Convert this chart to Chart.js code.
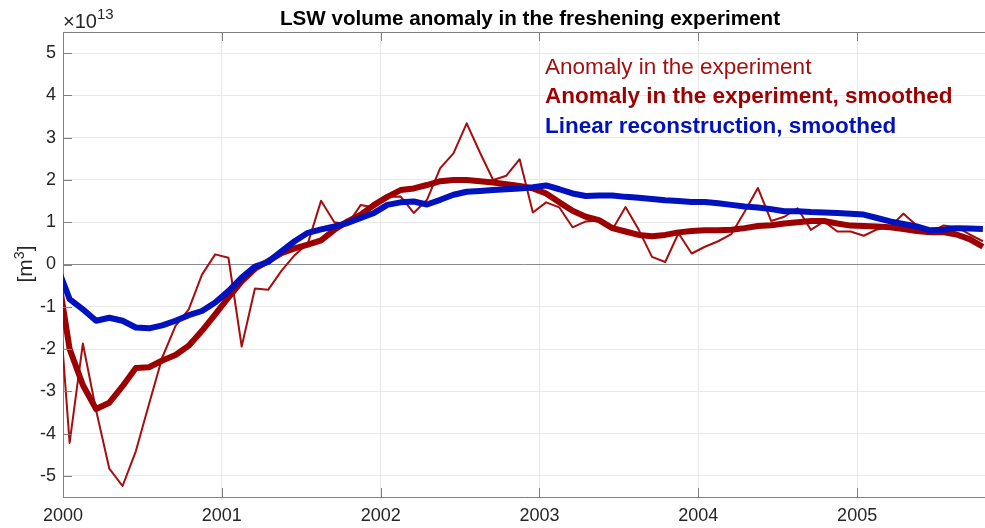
<!DOCTYPE html>
<html>
<head>
<meta charset="utf-8">
<script src="https://cdn.jsdelivr.net/npm/chart.js@4.4.1/dist/chart.umd.min.js"></script>
<style>
    html, body { margin: 0; padding: 0; background: #fff; }
    #wrap { position: relative; width: 985px; height: 528px; }
</style>
</head>
<body>
<div id="wrap"><canvas id="chartLsw"></canvas></div>
<script>
// monthly values, Dec 1999 .. Oct 2005, units of 1e13 m^3
var anomaly = [0,
    -4.22, -1.87, -3.45, -4.83, -5.24, -4.42, -3.3, -2.2, -1.45, -1.06, -0.24, 0.24,
    0.16, -1.94, -0.57, -0.6, -0.15, 0.22, 0.5, 1.51, 1.0, 0.95, 1.41, 1.35,
    1.6, 1.61, 1.22, 1.53, 2.28, 2.63, 3.34, 2.65, 2.0, 2.1, 2.49, 1.23,
    1.47, 1.35, 0.88, 1.02, 1.04, 0.82, 1.36, 0.82, 0.18, 0.06, 0.74, 0.26,
    0.42, 0.55, 0.72, 1.25, 1.81, 1.03, 1.13, 1.33, 0.82, 1.02, 0.78, 0.78,
    0.68, 0.83, 0.9, 1.2, 0.92, 0.76, 0.92, 0.89, 0.71, 0.55];

var anomalySmooth = [0,
    -2.0, -2.85, -3.42, -3.27, -2.88, -2.45, -2.43, -2.27, -2.14, -1.92, -1.57, -1.18,
    -0.78, -0.4, -0.1, 0.08, 0.27, 0.38, 0.47, 0.57, 0.82, 1.02, 1.18, 1.41,
    1.6, 1.76, 1.8, 1.88, 1.97, 2.0, 2.0, 1.97, 1.94, 1.9, 1.86, 1.8,
    1.68, 1.47, 1.27, 1.13, 1.05, 0.86, 0.78, 0.7, 0.67, 0.7, 0.76, 0.79,
    0.81, 0.81, 0.82, 0.86, 0.91, 0.93, 0.97, 1.0, 1.03, 1.03, 0.97, 0.92,
    0.91, 0.9, 0.88, 0.84, 0.79, 0.76, 0.77, 0.71, 0.6, 0.42];

var reconSmooth = [0,
    -0.82, -1.06, -1.33, -1.26, -1.33, -1.49, -1.51, -1.44, -1.33, -1.2, -1.1, -0.9,
    -0.63, -0.31, -0.05, 0.06, 0.31, 0.55, 0.75, 0.83, 0.9, 0.98, 1.1, 1.22,
    1.41, 1.47, 1.49, 1.42, 1.53, 1.65, 1.72, 1.74, 1.76, 1.78, 1.8, 1.83,
    1.87, 1.78, 1.68, 1.62, 1.63, 1.63, 1.6, 1.58, 1.55, 1.52, 1.5, 1.48,
    1.48, 1.45, 1.41, 1.37, 1.35, 1.31, 1.26, 1.26, 1.24, 1.23, 1.22, 1.2,
    1.18, 1.1, 1.02, 0.96, 0.9, 0.81, 0.82, 0.86, 0.85, 0.84];

var xTicks = [2000, 2001, 2002, 2003, 2004, 2005];
var yTicks = [-5, -4, -3, -2, -1, 0, 1, 2, 3, 4, 5];
var legendLabels = ['Anomaly in the experiment', 'Anomaly in the experiment, smoothed', 'Linear reconstruction, smoothed'];

// mid-month time stamps, first point is Dec 1999
function toPoints(values) {
    return values.map(function (v, i) {
        return { x: 2000 + (i - 0.5) / 12, y: v };
    });
}

var FONT = "'Liberation Sans', Arial, sans-serif";
var RED = '#a50e0e';
var RED_DARK = '#9c0000';
var BLUE = '#0012bd';
var AXIS = '#7f7f7f';
var TEXT = '#262626';

var overlay = {
    id: 'overlay',
    afterDraw: function (chart) {
        var ctx = chart.ctx;
        var a = chart.chartArea;
        var xs = chart.scales.x, ys = chart.scales.y;
        ctx.save();

        // box top line + inward ticks
        ctx.strokeStyle = AXIS;
        ctx.lineWidth = 1;
        ctx.beginPath();
        ctx.moveTo(a.left, a.top + 0.5);
        ctx.lineTo(a.right, a.top + 0.5);
        xTicks.forEach(function (t) {
            var px = Math.round(xs.getPixelForValue(t)) + 0.5;
            ctx.moveTo(px, a.bottom);
            ctx.lineTo(px, a.bottom - 9);
            ctx.moveTo(px, a.top);
            ctx.lineTo(px, a.top + 9);
        });
        yTicks.forEach(function (t) {
            var py = Math.round(ys.getPixelForValue(t)) + 0.5;
            ctx.moveTo(a.left, py);
            ctx.lineTo(a.left + 9, py);
        });
        ctx.stroke();

        // title
        ctx.fillStyle = '#000';
        ctx.font = 'bold 20.6px ' + FONT;
        ctx.textAlign = 'center';
        ctx.textBaseline = 'alphabetic';
        ctx.fillText('LSW volume anomaly in the freshening experiment', 530, 25);

        // exponent
        ctx.fillStyle = TEXT;
        ctx.textAlign = 'left';
        ctx.font = '20px ' + FONT;
        ctx.fillText('\u00d710', 63, 28);
        var w = ctx.measureText('\u00d710').width;
        ctx.font = '15px ' + FONT;
        ctx.fillText('13', 63 + w, 19);

        // y label
        ctx.save();
        ctx.translate(32, 264);
        ctx.rotate(-Math.PI / 2);
        ctx.textAlign = 'left';
        ctx.font = '21px ' + FONT;
        var w1 = ctx.measureText('[m').width;
        ctx.font = '14px ' + FONT;
        var w2 = ctx.measureText('3').width;
        ctx.font = '21px ' + FONT;
        var w3 = ctx.measureText(']').width;
        var x0 = -(w1 + w2 + w3) / 2;
        ctx.fillText('[m', x0, 0);
        ctx.fillText(']', x0 + w1 + w2, 0);
        ctx.font = '14px ' + FONT;
        ctx.fillText('3', x0 + w1, -8);
        ctx.restore();

        // legend, text only
        var colors = [RED, RED_DARK, BLUE];
        var weights = ['', 'bold ', 'bold '];
        var rows = [74, 103, 133];
        legendLabels.forEach(function (lab, i) {
            ctx.font = weights[i] + '22.5px ' + FONT;
            ctx.fillStyle = colors[i];
            ctx.fillText(lab, 545, rows[i]);
        });
        ctx.restore();
    }
};

var ctx = document.getElementById('chartLsw').getContext('2d');

var chartData = {
    datasets: [{
        label: legendLabels[0],
        data: toPoints(anomaly),
        borderColor: RED,
        borderWidth: 2,
        order: 3
    }, {
        label: legendLabels[1],
        data: toPoints(anomalySmooth),
        borderColor: RED_DARK,
        borderWidth: 6,
        order: 2
    }, {
        label: legendLabels[2],
        data: toPoints(reconSmooth),
        borderColor: BLUE,
        borderWidth: 6,
        order: 1
    }]
};
chartData.datasets.forEach(function (d) {
    d.pointRadius = 0;
    d.tension = 0;
    d.fill = false;
    d.clip = 0;
    d.borderJoinStyle = 'round';
    d.borderCapStyle = 'butt';
});

var options = {
    responsive: true,
    maintainAspectRatio: false,
    animation: false,
    layout: { padding: { top: 32, right: 0, left: 0, bottom: 0 } },
    plugins: {
        legend: { display: false },
        title: { display: false },
        tooltip: { enabled: false }
    },
    scales: {
        x: {
            type: 'linear',
            min: 2000,
            max: 2005.805,
            afterBuildTicks: function (scale) {
                scale.ticks = xTicks.map(function (v) { return { value: v }; });
            },
            afterFit: function (scale) { scale.height = 31; },
            ticks: {
                color: TEXT,
                font: { family: FONT, size: 18 },
                padding: 8,
                maxRotation: 0,
                callback: function (v) { return String(v); }
            },
            grid: {
                color: '#e8e8e8',
                drawTicks: false
            },
            border: { color: AXIS }
        },
        y: {
            type: 'linear',
            min: -5.5,
            max: 5.5,
            afterBuildTicks: function (scale) {
                scale.ticks = yTicks.map(function (v) { return { value: v }; });
            },
            afterFit: function (scale) { scale.width = 63; },
            ticks: {
                color: TEXT,
                font: { family: FONT, size: 18 },
                padding: 7,
                callback: function (v) { return String(v); }
            },
            grid: {
                color: function (c) { return c.tick && c.tick.value === 0 ? '#8a8a8a' : '#e8e8e8'; },
                drawTicks: false
            },
            border: { color: AXIS }
        }
    }
};

var lswChart = new Chart(ctx, {
    type: 'line',
    data: chartData,
    options: options,
    plugins: [overlay]
});
</script>
</body>
</html>
